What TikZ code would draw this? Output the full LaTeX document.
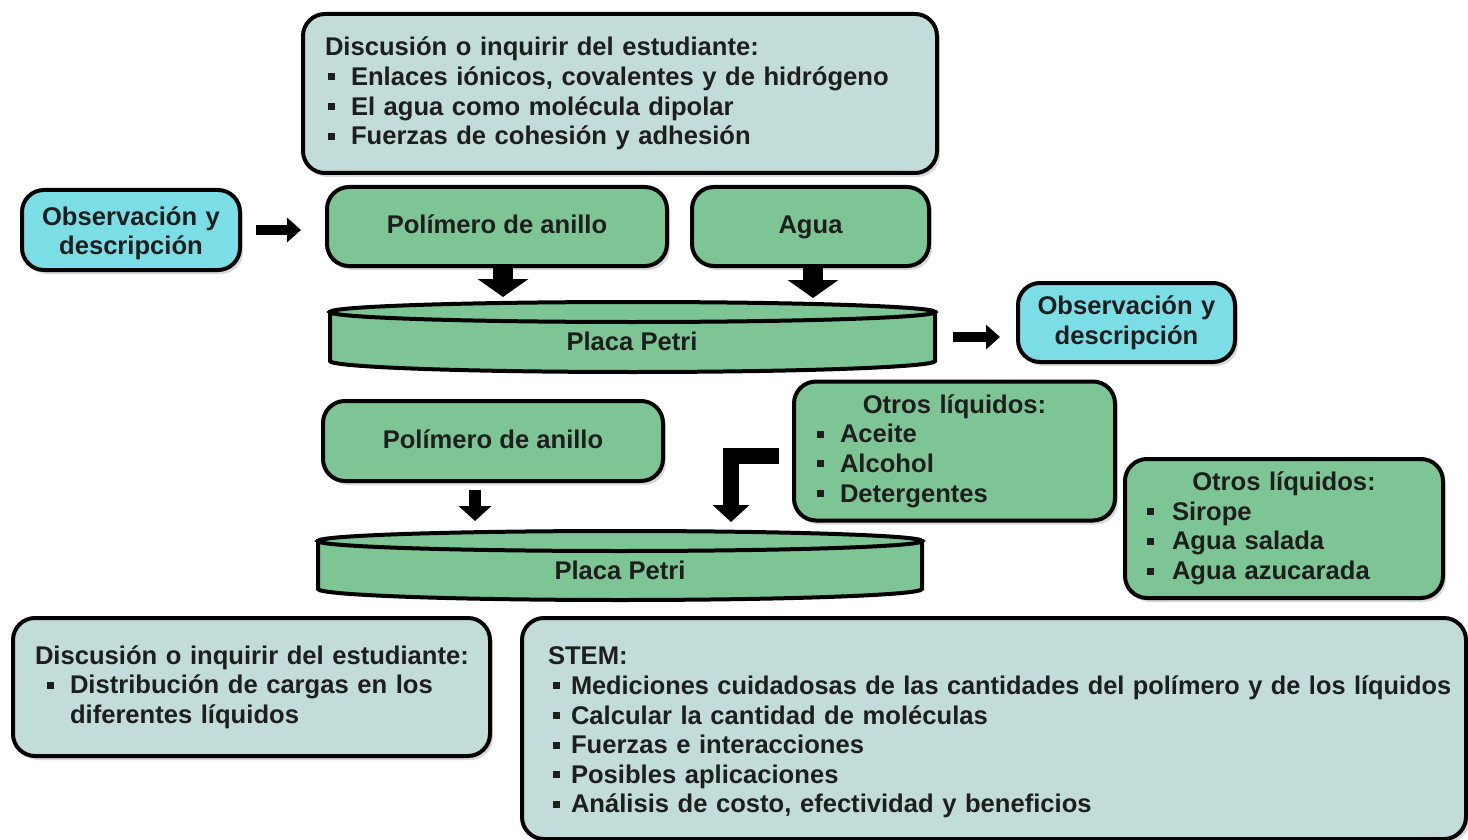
\documentclass[tikz,border=0pt]{standalone}
\usepackage{fontspec}
\setmainfont{Liberation Sans}
\usetikzlibrary{arrows.meta,shadows}
\definecolor{bgrey}{HTML}{C2DCD9}
\definecolor{gfill}{HTML}{7DC594}
\definecolor{cfill}{HTML}{7BDEE6}
\definecolor{txt}{HTML}{1E1E1E}
% bullet item: #1 indent before square, #2 width of bullet box, #3 text
\newcommand\itm[3]{\mbox{\hspace*{#1}\makebox[#2][l]{\rule[5pt]{7pt}{7pt}}#3}}
\newcommand\tl[1]{\mbox{#1}}
\begin{document}
\begin{tikzpicture}[x=1pt,y=-1pt,
  every node/.style={font=\fontsize{25.6}{29.6}\selectfont\bfseries, text=txt},
  box/.style={draw=black, line width=4pt, rounded corners=22pt, inner ysep=0pt,
    drop shadow={shadow xshift=3pt,shadow yshift=-4pt,opacity=0.3}},
  greybox/.style={box, fill=bgrey, align=left},
  greensingle/.style={box, fill=gfill, text height=19pt, text depth=5pt},
  greenlist/.style={box, fill=gfill, align=left},
  cyanbox/.style={box, fill=cfill, align=center},
  dish/.style={draw=black, line width=4pt, fill=gfill},
  bigarrow/.style={draw=black, line width=20pt, -{Triangle[width=50pt,length=18pt]}},
  rarrow/.style={draw=black, line width=10pt, -{Triangle[width=24pt,length=14pt]}},
  smarrow/.style={draw=black, line width=12pt, -{Triangle[width=32pt,length=15pt]}},
  elbarrow/.style={draw=black, line width=16pt, line join=miter, -{Triangle[width=36pt,length=17pt]}}]
\useasboundingbox (0,0) rectangle (1468,840);

% top discussion box
\node[greybox, minimum width=634pt, minimum height=159pt, text width=590pt, inner xsep=22pt] (disc1) at (620,93.5)
 {\tl{Discusión o inquirir del estudiante:}\\
  \itm{3pt}{23pt}{Enlaces iónicos, covalentes y de hidrógeno}\\
  \itm{3pt}{23pt}{El agua como molécula dipolar}\\
  \itm{3pt}{23pt}{Fuerzas de cohesión y adhesión}};

% row 1
\node[cyanbox, minimum width=218pt, minimum height=80pt, text width=200pt, inner xsep=9pt] (obs1) at (131,230)
 {\rule{0pt}{25pt}Observación y\\descripción};
\node[greensingle, minimum width=340pt, minimum height=79pt, inner xsep=10pt] (poly1) at (497,226.5)
 {Polímero de anillo};
\node[greensingle, minimum width=237pt, minimum height=79pt, inner xsep=10pt] (agua) at (810.5,226.5)
 {Agua};

% dish 1
\filldraw[dish] (330,312) -- (330,361) arc[start angle=180,end angle=0,x radius=302.5,y radius=11] -- (935,312) -- cycle;
\filldraw[dish] (632.5,312) ellipse[x radius=302.5, y radius=10];
\node (petri1) at (632,341) {Placa Petri};

\node[cyanbox, minimum width=217pt, minimum height=79pt, text width=200pt, inner xsep=8pt] (obs2) at (1126.5,322.5)
 {Observación y\\descripción};

% row 2
\node[greensingle, minimum width=340pt, minimum height=80pt, inner xsep=10pt] (poly2) at (493,441)
 {Polímero de anillo};
\node[greenlist, minimum width=321pt, minimum height=139pt, text width=275pt, inner xsep=23pt] (otros1) at (954.5,451)
 {\makebox[\linewidth][c]{Otros líquidos:}\\
  \itm{0pt}{23pt}{Aceite}\\
  \itm{0pt}{23pt}{Alcohol}\\
  \itm{0pt}{23pt}{Detergentes}};
\node[greenlist, minimum width=318pt, minimum height=139pt, text width=274pt, inner xsep=22pt] (otros2) at (1284,528.5)
 {\makebox[\linewidth][c]{Otros líquidos:}\\
  \itm{0pt}{25pt}{Sirope}\\
  \itm{0pt}{25pt}{Agua salada}\\
  \itm{0pt}{25pt}{Agua azucarada}};

% dish 2
\filldraw[dish] (318,541) -- (318,589) arc[start angle=180,end angle=0,x radius=302,y radius=11] -- (922,541) -- cycle;
\filldraw[dish] (620,541) ellipse[x radius=302, y radius=10];
\node (petri2) at (620,570) {Placa Petri};

% bottom boxes
\node[greybox, minimum width=477pt, minimum height=138pt, text width=433pt, inner xsep=22pt] (disc2) at (251.5,687)
 {\tl{Discusión o inquirir del estudiante:}\\
  \itm{12pt}{23pt}{Distribución de cargas en los}\\
  \tl{\hspace*{35pt}diferentes líquidos}};
\node[greybox, minimum width=944pt, minimum height=221pt, text width=912pt, inner xsep=16pt] (stem) at (994,728.5)
 {\tl{\rule{0pt}{26pt}\hspace*{10pt}STEM:}\\
  \itm{15pt}{18pt}{\scalebox{0.99}[1]{Mediciones cuidadosas de las cantidades del polímero y de los líquidos}}\\
  \itm{15pt}{18pt}{Calcular la cantidad de moléculas}\\
  \itm{15pt}{18pt}{Fuerzas e interacciones}\\
  \itm{15pt}{18pt}{Posibles aplicaciones}\\
  \itm{15pt}{18pt}{Análisis de costo, efectividad y beneficios}};

% connectors
\coordinate (d1a) at (503,297);
\coordinate (d1b) at (813,298);
\coordinate (d1r) at (953,337);
\coordinate (d2a) at (475,521);
\coordinate (d2b) at (731,522);
\draw[rarrow, shorten <=14pt, shorten >=24pt] (obs1.east) -- (obs1.east -| poly1.west);
\draw[bigarrow] (poly1.south -| d1a) -- (d1a);
\draw[bigarrow] (agua.south -| d1b) -- (d1b);
\draw[rarrow, shorten >=16pt] (d1r) -- (d1r -| obs2.west);
\draw[smarrow, shorten <=7pt] (poly2.south -| d2a) -- (d2a);
\draw[elbarrow] ([shift={(-13,5)}]otros1.west) -| (d2b);
\end{tikzpicture}
\end{document}
